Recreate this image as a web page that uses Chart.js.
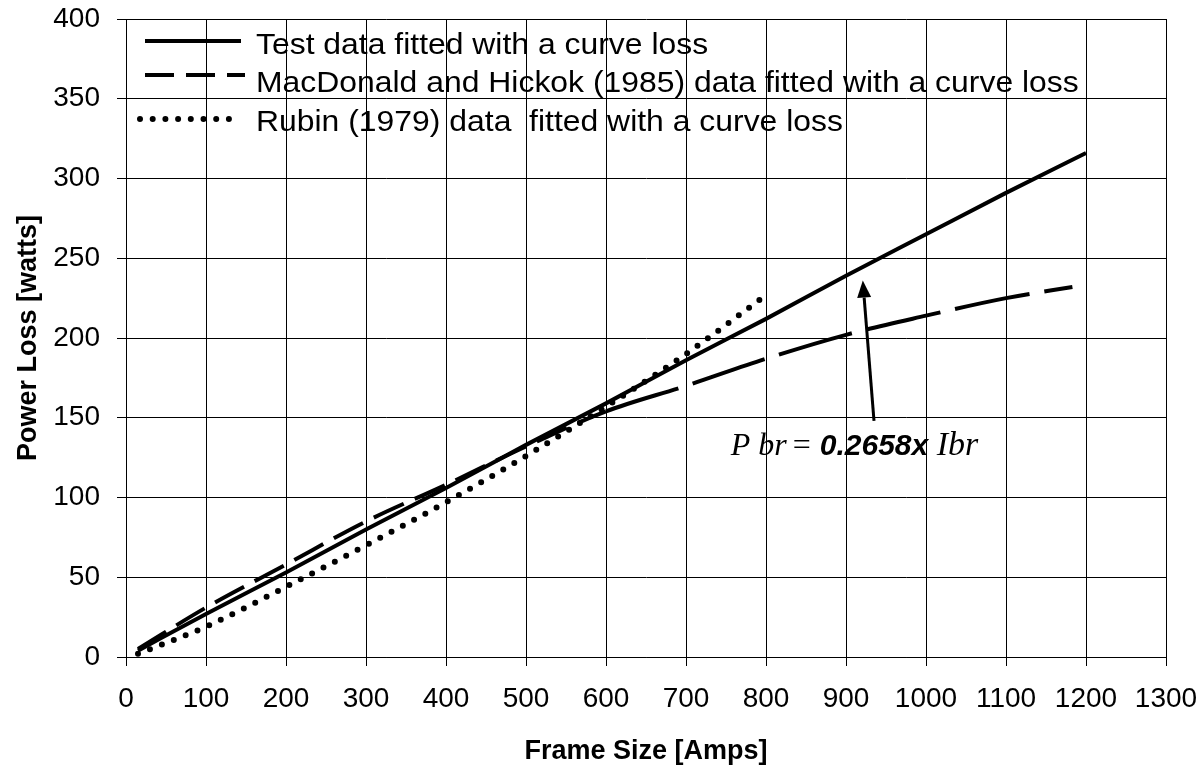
<!DOCTYPE html>
<html>
<head>
<meta charset="utf-8">
<script src="https://cdn.jsdelivr.net/npm/chart.js@4.4.1/dist/chart.umd.min.js"></script>
<style>
  html, body { margin: 0; padding: 0; background: #fff; }
  #wrap { width: 1203px; height: 772px; }
</style>
</head>
<body>
<div id="wrap"><canvas id="chartPerdidas" width="1203" height="772"></canvas></div>
<script>
// datos
const seriesNames = [
    'Test data fitted with a curve loss',
    'MacDonald and Hickok (1985) data fitted with a curve loss',
    'Rubin (1979) data  fitted with a curve loss'
];
const testX = [15, 100, 200, 300, 400, 500, 600, 700, 800, 900, 1000, 1100, 1200];
const testY = [4, 27, 53, 80, 106, 133, 159, 186, 212, 239, 265, 291, 316];
const macX = [15, 100, 200, 300, 400, 500, 600, 700, 800, 900, 1000, 1100, 1183];
const macY = [5, 31, 58, 85, 108, 132, 154, 170, 187, 202, 214, 225, 232];
const rubinX = [15, 100, 200, 300, 400, 500, 600, 700, 795];
const rubinY = [2, 19, 44, 70, 97, 126, 157, 190, 225];
const xTicks = [0, 100, 200, 300, 400, 500, 600, 700, 800, 900, 1000, 1100, 1200, 1300];
const yTicks = [0, 50, 100, 150, 200, 250, 300, 350, 400];
const xTitle = 'Frame Size [Amps]';
const yTitle = 'Power Loss [watts]';
// anotacion: P br = 0.2658 x Ibr
const labelAt = [756, 126.6];
const arrowFrom = [935, 148];
const arrowTo = [921, 236];

function puntos(xs, ys) {
    return xs.map((x, i) => ({ x: x, y: ys[i] }));
}

// leyenda dibujada a mano (estilo Excel, dentro del area)
const leyendaPlugin = {
    id: 'leyenda',
    afterDraw(chart) {
        const ctx = chart.ctx;
        const filas = [
            { lineY: 41, textY: 54, x0: 145, x1: 241 },
            { lineY: 75, textY: 92, x0: 145, x1: 245 },
            { lineY: 119, textY: 131, x0: 140, x1: 232 }
        ];
        chart.data.datasets.forEach((ds, i) => {
            const f = filas[i];
            ctx.save();
            ctx.strokeStyle = '#000';
            ctx.lineWidth = ds.legendWidth;
            ctx.lineCap = ds.legendCap;
            ctx.setLineDash(ds.legendDash);
            ctx.beginPath();
            ctx.moveTo(f.x0, f.lineY);
            ctx.lineTo(f.x1, f.lineY);
            ctx.stroke();
            ctx.restore();

            ctx.save();
            ctx.fillStyle = '#000';
            ctx.font = '29px "Liberation Sans", Arial, sans-serif';
            ctx.textBaseline = 'alphabetic';
            ctx.translate(256, f.textY);
            ctx.scale(1.1, 1);
            ctx.fillText(ds.label, 0, 0);
            ctx.restore();
        });
    }
};

// flecha y formula
const anotacionPlugin = {
    id: 'anotacion',
    afterDatasetsDraw(chart) {
        const ctx = chart.ctx;
        const sx = chart.scales.x, sy = chart.scales.y;
        const x0 = sx.getPixelForValue(arrowFrom[0]), y0 = sy.getPixelForValue(arrowFrom[1]);
        const x1 = sx.getPixelForValue(arrowTo[0]), y1 = sy.getPixelForValue(arrowTo[1]);
        const ang = Math.atan2(y1 - y0, x1 - x0);
        const largo = 17, ancho = 7;
        ctx.save();
        ctx.strokeStyle = '#000';
        ctx.fillStyle = '#000';
        ctx.lineWidth = 3;
        ctx.beginPath();
        ctx.moveTo(x0, y0);
        ctx.lineTo(x1 - Math.cos(ang) * largo, y1 - Math.sin(ang) * largo);
        ctx.stroke();
        ctx.beginPath();
        ctx.moveTo(x1, y1);
        ctx.lineTo(x1 - Math.cos(ang) * largo - Math.sin(ang) * ancho, y1 - Math.sin(ang) * largo + Math.cos(ang) * ancho);
        ctx.lineTo(x1 - Math.cos(ang) * largo + Math.sin(ang) * ancho, y1 - Math.sin(ang) * largo - Math.cos(ang) * ancho);
        ctx.closePath();
        ctx.fill();

        const lx = sx.getPixelForValue(labelAt[0]);
        const ly = sy.getPixelForValue(labelAt[1]);
        ctx.textBaseline = 'alphabetic';
        ctx.font = 'italic 32px "Liberation Serif", "Times New Roman", serif';
        ctx.fillText('P br', lx, ly);
        ctx.font = '32px "Liberation Serif", "Times New Roman", serif';
        ctx.fillText('=', lx + 62, ly);
        ctx.font = 'italic bold 30px "Liberation Sans", Arial, sans-serif';
        ctx.fillText('0.2658x', lx + 89, ly);
        ctx.font = 'italic 34px "Liberation Serif", "Times New Roman", serif';
        ctx.fillText('Ibr', lx + 206, ly);
        ctx.restore();
    }
};

const fuenteTicks = { family: '"Liberation Sans", Arial, sans-serif', size: 28 };
const fuenteTitulo = { family: '"Liberation Sans", Arial, sans-serif', size: 27, weight: 'bold' };

const ctxPerdidas = document.getElementById('chartPerdidas');
const chart = new Chart(ctxPerdidas, {
    type: 'scatter',
    data: {
        datasets: [{
            label: seriesNames[0],
            data: puntos(testX, testY),
            showLine: true,
            borderColor: '#000',
            borderWidth: 4,
            pointRadius: 0,
            tension: 0.4,
            cubicInterpolationMode: 'monotone',
            legendWidth: 4, legendDash: [], legendCap: 'butt'
        }, {
            label: seriesNames[1],
            data: puntos(macX, macY),
            showLine: true,
            borderColor: '#000',
            borderWidth: 4,
            pointRadius: 0,
            cubicInterpolationMode: 'monotone',
            segment: {
                // los trazos se alargan a la derecha como en el original
                borderDash: c => c.p0.parsed.x < 580 ? [33, 12] : [76, 15]
            },
            legendWidth: 4, legendDash: [29, 12], legendCap: 'butt'
        }, {
            label: seriesNames[2],
            data: puntos(rubinX, rubinY),
            showLine: true,
            borderColor: '#000',
            borderWidth: 6,
            borderDash: [0, 12.8],
            borderCapStyle: 'round',
            pointRadius: 0,
            cubicInterpolationMode: 'monotone',
            legendWidth: 6, legendDash: [0, 12.7], legendCap: 'round'
        }]
    },
    options: {
        responsive: false,
        animation: false,
        layout: { padding: { top: 19, right: 37, left: 0, bottom: 0 } },
        plugins: {
            legend: { display: false },
            tooltip: { enabled: false }
        },
        scales: {
            x: {
                type: 'linear',
                min: xTicks[0],
                max: xTicks[xTicks.length - 1],
                afterBuildTicks: s => { s.ticks = xTicks.map(v => ({ value: v })); },
                afterFit: s => { s.height = 115; s.paddingLeft = 0; s.paddingRight = 0; },
                ticks: { color: '#000', font: fuenteTicks, maxRotation: 0, autoSkip: false, padding: 16, callback: v => String(v) },
                grid: { color: '#000', lineWidth: 1, tickLength: 9 },
                border: { color: '#000', width: 1 },
                title: { display: true, text: xTitle, color: '#000', font: fuenteTitulo, padding: { top: 0, bottom: 4 } }
            },
            y: {
                type: 'linear',
                min: yTicks[0],
                max: yTicks[yTicks.length - 1],
                afterBuildTicks: s => { s.ticks = yTicks.map(v => ({ value: v })); },
                afterFit: s => { s.width = 126; s.paddingTop = 0; s.paddingBottom = 0; },
                ticks: { color: '#000', font: fuenteTicks, padding: 17, callback: v => String(v) },
                grid: { color: '#000', lineWidth: 1, tickLength: 9 },
                border: { color: '#000', width: 1 },
                title: { display: true, text: yTitle, color: '#000', font: fuenteTitulo, padding: { top: 12, bottom: 0 } }
            }
        }
    },
    plugins: [anotacionPlugin, leyendaPlugin]
});
</script>
</body>
</html>
